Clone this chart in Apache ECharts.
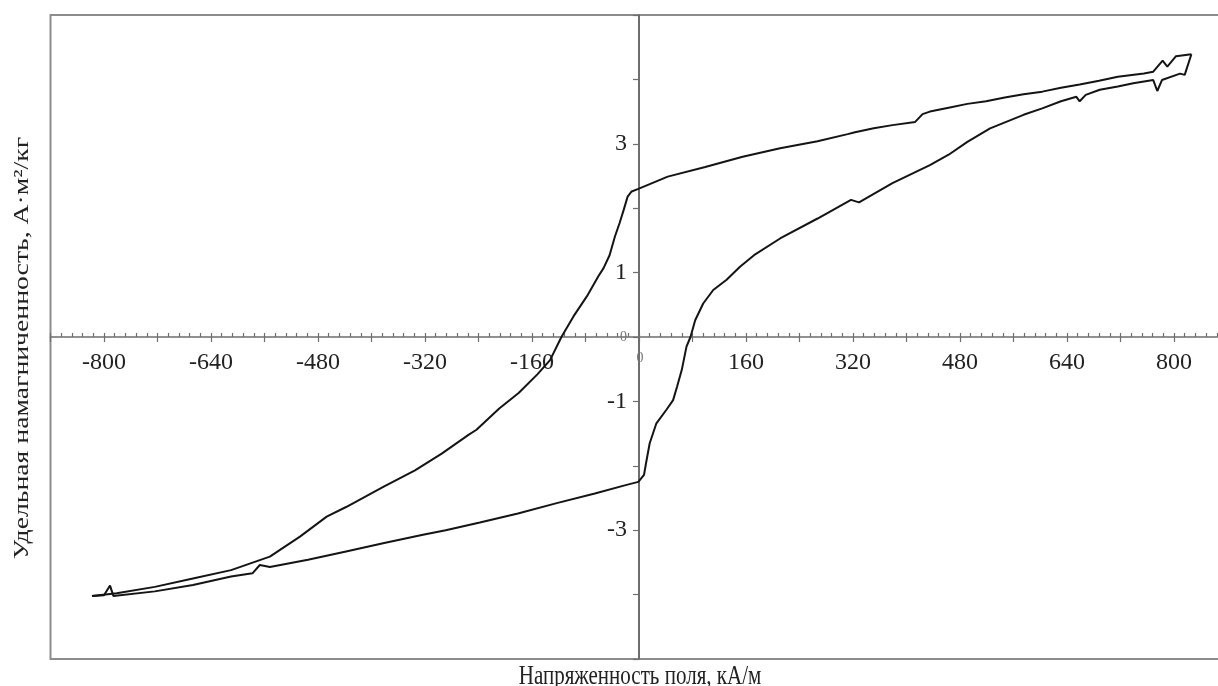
<!DOCTYPE html>
<html>
<head>
<meta charset="utf-8">
<script src="https://cdn.jsdelivr.net/npm/echarts@6/dist/echarts.min.js"></script>
<style>
  html, body { margin: 0; padding: 0; background: #ffffff; }
  #chart { width: 1218px; height: 686px; }
</style>
</head>
<body>
<div id="chart"></div>
<script>
// Hysteresis loop: field strength H (kA/m) vs specific magnetization (A·m²/kg)

// Descending branch: from +H max down to -H max
const descendingBranch = [
  [826, 4.39], [803, 4.36], [790, 4.20], [783, 4.29], [769, 4.12], [755, 4.09],
  [716, 4.04], [688, 3.98], [659, 3.92], [631, 3.87], [603, 3.81], [575, 3.77],
  [547, 3.72], [519, 3.66], [491, 3.62], [463, 3.56], [435, 3.50], [424, 3.46],
  [413, 3.34], [379, 3.29], [351, 3.24], [323, 3.18], [312, 3.15], [267, 3.04],
  [211, 2.93], [155, 2.80], [99, 2.64], [43, 2.49], [-1, 2.30], [-11, 2.26],
  [-17, 2.18], [-23, 1.97], [-29, 1.77], [-36, 1.56], [-44, 1.27], [-53, 1.07],
  [-61, 0.94], [-78, 0.63], [-98, 0.32], [-116, 0.00], [-133, -0.36], [-152, -0.58],
  [-180, -0.87], [-209, -1.11], [-243, -1.44], [-255, -1.52], [-295, -1.81],
  [-335, -2.07], [-381, -2.32], [-438, -2.64], [-467, -2.79], [-507, -3.10],
  [-552, -3.41], [-610, -3.62], [-667, -3.75], [-724, -3.88], [-781, -3.98],
  [-818, -4.02]
];

// Ascending branch: from -H max back up to +H max
const ascendingBranch = [
  [-818, -4.02], [-800, -4.01], [-791, -3.86], [-786, -4.02], [-724, -3.95],
  [-667, -3.85], [-610, -3.72], [-578, -3.67], [-567, -3.54], [-552, -3.57],
  [-495, -3.46], [-438, -3.33], [-381, -3.20], [-323, -3.07], [-289, -3.00],
  [-238, -2.88], [-181, -2.74], [-123, -2.58], [-66, -2.43], [-20, -2.30],
  [-1, -2.25], [7.5, -2.14], [10.5, -1.96], [16, -1.65], [26, -1.34], [41, -1.13],
  [51, -0.98], [57, -0.77], [64, -0.51], [71, -0.15], [77, 0.00], [84, 0.26],
  [96, 0.52], [111, 0.73], [131, 0.89], [151, 1.09], [172, 1.27], [211, 1.53],
  [267, 1.84], [317, 2.13], [329, 2.09], [379, 2.39], [435, 2.67], [463, 2.83],
  [491, 3.03], [525, 3.24], [575, 3.45], [603, 3.55], [631, 3.66], [654, 3.73],
  [659, 3.66], [668, 3.76], [689, 3.84], [716, 3.89], [739, 3.94], [769, 3.99],
  [775, 3.82], [782, 3.99], [809, 4.09], [816, 4.07], [826, 4.39]
];

// Axis labelling
const fieldLabels = [-800, -640, -480, -320, -160, 160, 320, 480, 640, 800];
const magnetizationLabels = [3, 1, -1, -3];
const xTitle = 'Напряженность поля, кА/м';
const yTitle = 'Удельная намагниченность, А·м²/кг';

const serif = '"Liberation Serif", "DejaVu Serif", serif';
const axisGray = '#6e6e6e';
const textColor = '#222222';
const titleStretch = 1.26;   // tall, narrow lettering of the axis titles

// Plot area and axis ranges; the crossing axes sit where H = 0 and M = 0
const plot = { left: 50.5, top: 15, width: 1177, height: 644 };
const hRange = [-880, 880];
const mRange = [-5, 5];
const zeroX = plot.width * (0 - hRange[0]) / (hRange[1] - hRange[0]);
const zeroY = plot.height * (mRange[1] - 0) / (mRange[1] - mRange[0]);
const xAxisOffset = -(plot.height - zeroY);   // lift the bottom axis to M = 0
const yAxisOffset = -zeroX;                   // shift the left axis to H = 0

const chart = echarts.init(document.getElementById('chart'));

chart.setOption({
  backgroundColor: '#ffffff',
  animation: false,
  grid: {
    left: plot.left,
    top: plot.top,
    width: plot.width,
    height: plot.height,
    outerBoundsMode: 'none',
    containLabel: false,
    show: true,
    borderColor: '#8c8c8c',
    borderWidth: 2,
    backgroundColor: 'transparent'
  },
  xAxis: [
    {
      type: 'value',
      min: hRange[0],
      max: hRange[1],
      interval: 80,
      position: 'bottom',
      offset: xAxisOffset,
      axisLine: { show: true, onZero: false, lineStyle: { color: axisGray, width: 1.6 } },
      axisTick: { show: true, inside: false, length: 5, lineStyle: { color: axisGray, width: 1.2 } },
      minorTick: { show: false },
      splitLine: { show: false },
      axisLabel: {
        margin: 14,
        fontFamily: serif,
        fontSize: 24,
        color: textColor,
        formatter: v => (fieldLabels.includes(v) ? String(v) : (v === 0 ? '{z|0}' : '')),
        rich: { z: { fontFamily: serif, fontSize: 14, color: '#777777', padding: [0, 0, 0, 2] } }
      }
    },
    {
      // fine 16 kA/m ticks standing above the field axis
      type: 'value',
      min: hRange[0],
      max: hRange[1],
      interval: 16,
      position: 'bottom',
      offset: xAxisOffset,
      axisLine: { show: false, onZero: false },
      axisTick: { show: true, inside: true, length: 4, lineStyle: { color: axisGray, width: 1.2 } },
      axisLabel: { show: false },
      splitLine: { show: false }
    }
  ],
  yAxis: {
    type: 'value',
    min: mRange[0],
    max: mRange[1],
    interval: 1,
    position: 'left',
    offset: yAxisOffset,
    axisLine: { show: true, onZero: false, lineStyle: { color: axisGray, width: 2 } },
    axisTick: { show: true, inside: false, length: 6, lineStyle: { color: axisGray, width: 1.2 } },
    splitLine: { show: false },
    axisLabel: {
      margin: 12,
      fontFamily: serif,
      fontSize: 24,
      color: textColor,
      formatter: v => (magnetizationLabels.includes(v) ? String(v) : (v === 0 ? '{z|0}' : '')),
      rich: { z: { fontFamily: serif, fontSize: 14, color: '#777777' } }
    }
  },
  series: [
    {
      name: 'descending',
      type: 'line',
      data: descendingBranch,
      showSymbol: false,
      symbol: 'none',
      smooth: false,
      lineStyle: { color: '#141414', width: 2 },
      z: 5
    },
    {
      name: 'ascending',
      type: 'line',
      data: ascendingBranch,
      showSymbol: false,
      symbol: 'none',
      smooth: false,
      lineStyle: { color: '#141414', width: 2 },
      z: 5
    }
  ],
  graphic: [
    {
      type: 'text',
      x: 22,
      y: 348,
      rotation: Math.PI / 2,
      scaleX: titleStretch,
      style: {
        text: yTitle,
        font: '22px ' + serif,
        fill: textColor,
        textAlign: 'center',
        textVerticalAlign: 'middle'
      }
    },
    {
      type: 'text',
      x: 640,
      y: 677,
      scaleY: titleStretch,
      style: {
        text: xTitle,
        font: '21px ' + serif,
        fill: textColor,
        textAlign: 'center',
        textVerticalAlign: 'middle'
      }
    }
  ]
});
</script>
</body>
</html>
